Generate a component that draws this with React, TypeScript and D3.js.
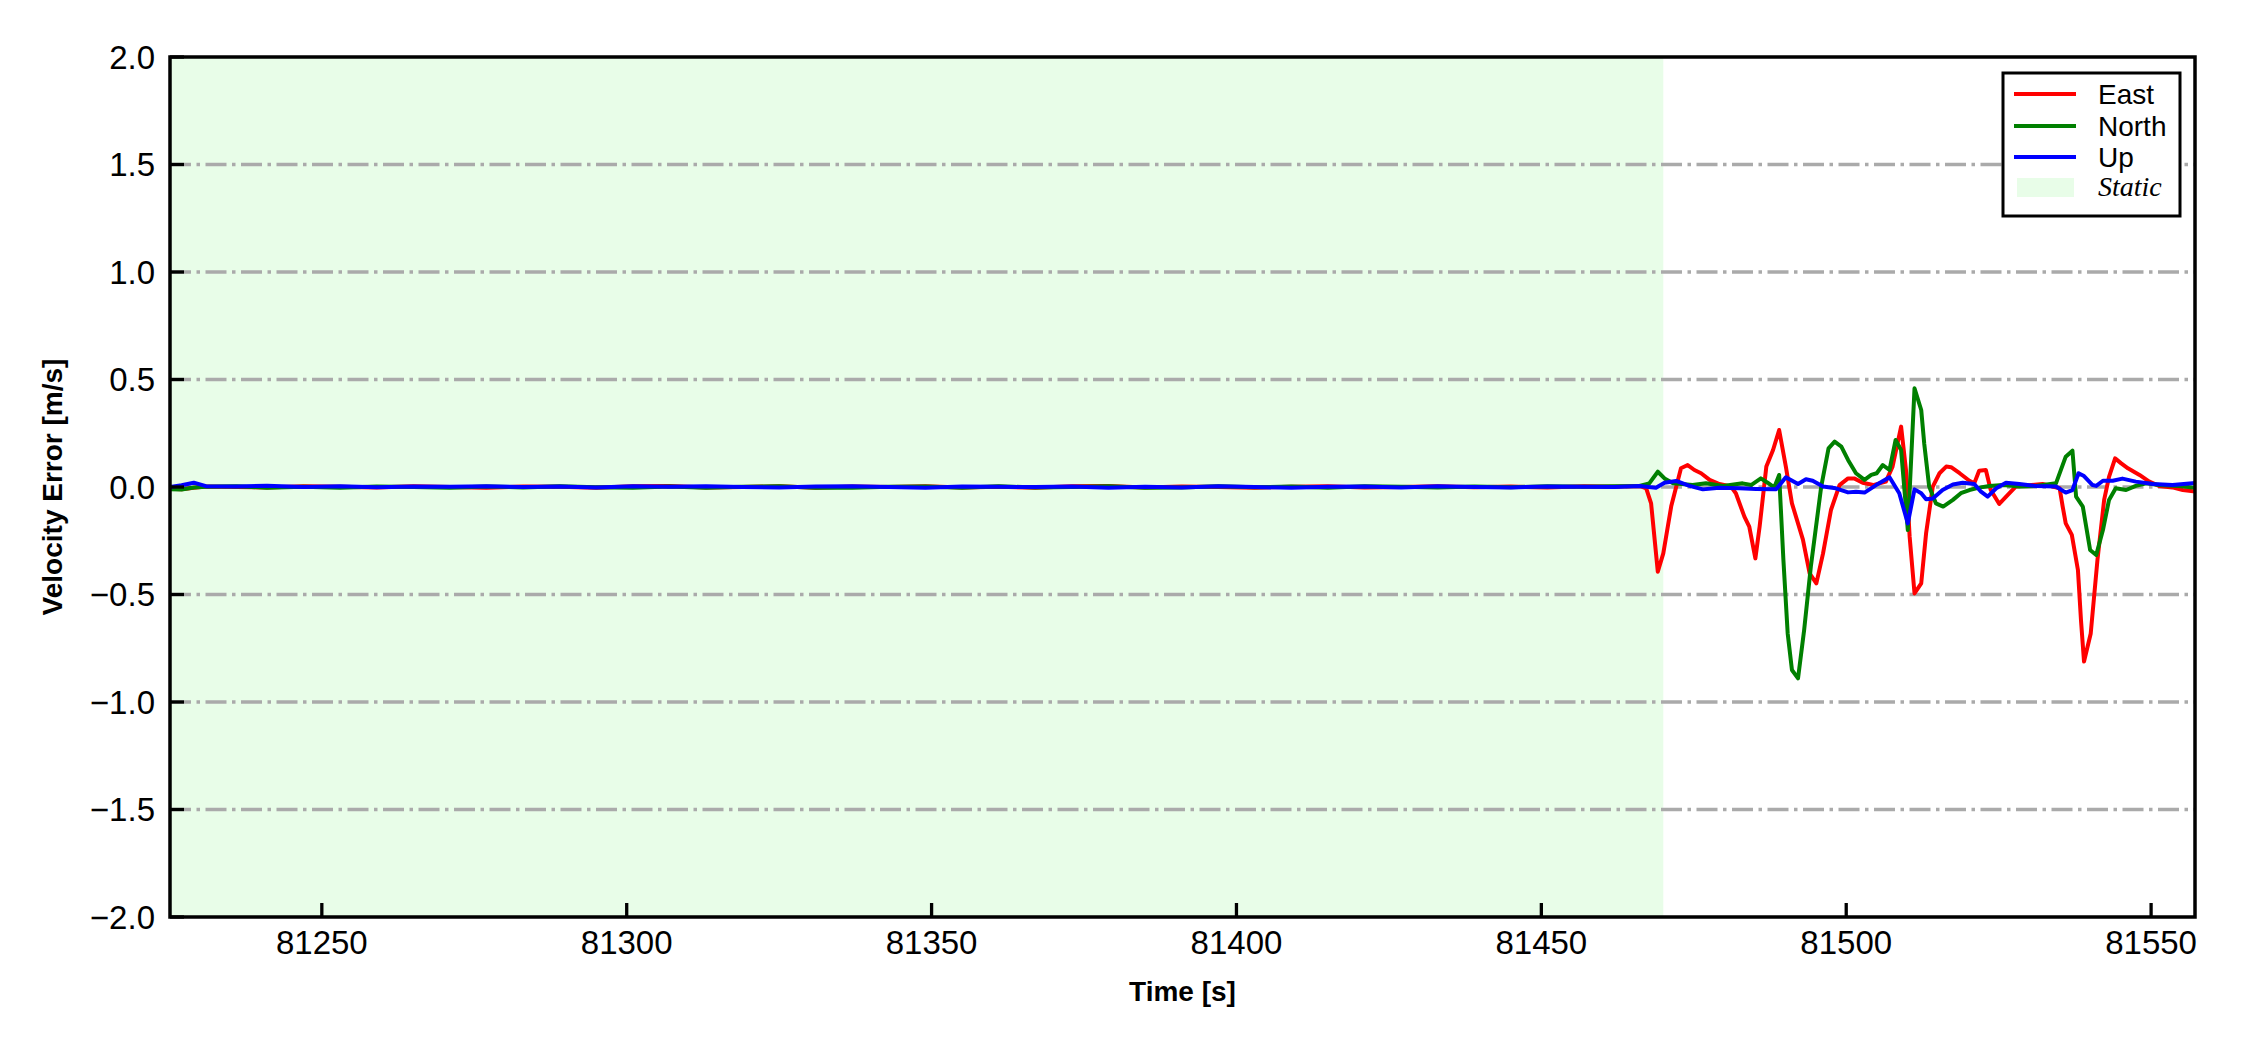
import React from "react";
import * as d3 from "d3";

// ---------- data ----------
const staticTimes = [81225, 81227, 81229, 81231, 81236, 81241, 81247, 81253, 81259, 81265, 81271, 81277, 81283, 81289, 81295, 81301, 81307, 81313, 81319, 81325, 81331, 81337, 81343, 81349, 81355, 81361, 81367, 81373, 81379, 81385, 81391, 81397, 81403, 81409, 81415, 81421, 81427, 81433, 81439, 81445, 81451, 81457, 81462];
const eastStatic = [-0.008, -0.010, -0.003, 0.002, 0.000, -0.002, 0.003, 0.001, -0.002, 0.004, 0.000, -0.003, 0.002, 0.001, -0.004, 0.003, 0.005, -0.002, 0.000, 0.003, -0.003, 0.002, 0.000, 0.004, -0.002, 0.001, -0.003, 0.003, 0.005, -0.002, 0.002, 0.000, -0.003, 0.001, 0.004, -0.002, 0.000, 0.003, -0.001, 0.002, -0.002, 0.003, 0.001];
const northStatic = [-0.010, -0.012, -0.002, 0.001, 0.003, -0.003, 0.001, -0.004, 0.002, 0.000, -0.003, 0.002, -0.002, 0.003, -0.001, -0.004, 0.002, -0.003, 0.001, 0.004, -0.003, -0.004, 0.001, 0.002, -0.003, 0.003, -0.002, 0.000, 0.003, -0.004, -0.002, 0.003, -0.001, 0.002, -0.003, 0.004, 0.001, -0.002, 0.002, -0.001, 0.003, 0.001, 0.004];
const upStatic = [0.000, 0.008, 0.020, 0.004, 0.002, 0.006, 0.000, 0.003, -0.001, 0.002, 0.001, 0.004, 0.000, 0.002, -0.002, 0.003, 0.001, 0.004, 0.000, -0.002, 0.002, 0.003, 0.000, -0.003, 0.002, 0.001, 0.000, 0.002, -0.003, 0.001, -0.002, 0.003, 0.000, -0.004, 0.001, 0.002, -0.002, 0.003, 0.000, -0.002, 0.002, 0.001, 0.000];

const eastDynTimes = [81466.1, 81467.2, 81468.0, 81469.1, 81470.0, 81471.3, 81472.9, 81474.0, 81475.1, 81476.2, 81477.6, 81479.2, 81481.1, 81481.9, 81483.3, 81484.1, 81485.1, 81485.8, 81486.9, 81488.0, 81489.0, 81490.1, 81491.1, 81492.9, 81494.0, 81495.1, 81496.2, 81497.5, 81498.9, 81500.3, 81501.3, 81502.7, 81504.4, 81506.5, 81507.6, 81509.0, 81509.8, 81510.4, 81511.2, 81512.3, 81513.1, 81514.2, 81515.3, 81516.4, 81517.2, 81518.6, 81520.2, 81521.0, 81521.8, 81522.9, 81523.7, 81525.1, 81526.5, 81527.8, 81530.0, 81532.2, 81535.0, 81535.5, 81536.0, 81537.0, 81538.0, 81538.5, 81539.0, 81540.1, 81541.2, 81542.3, 81543.1, 81544.1, 81545.1, 81546.2, 81548.1, 81549.7, 81551.3, 81553.5, 81555.2, 81557.6];
const eastDyn = [0.005, -0.006, -0.076, -0.394, -0.309, -0.09, 0.087, 0.102, 0.079, 0.064, 0.033, 0.014, 0.002, -0.029, -0.138, -0.184, -0.332, -0.184, 0.095, 0.172, 0.265, 0.095, -0.076, -0.245, -0.402, -0.448, -0.309, -0.107, 0.009, 0.040, 0.040, 0.020, 0.009, 0.025, 0.095, 0.281, 0.079, -0.231, -0.495, -0.448, -0.215, 0.002, 0.064, 0.095, 0.092, 0.064, 0.029, 0.017, 0.076, 0.079, -0.014, -0.079, -0.037, 0.002, 0.008, 0.014, -0.006, -0.091, -0.169, -0.223, -0.386, -0.619, -0.812, -0.681, -0.340, -0.060, 0.047, 0.133, 0.110, 0.087, 0.056, 0.025, 0.005, -0.002, -0.014, -0.022];

const northDynTimes = [81466.1, 81467.7, 81469.1, 81470.2, 81471.6, 81474.8, 81477.0, 81479.8, 81483.0, 81484.4, 81486.0, 81487.1, 81488.2, 81489.0, 81489.7, 81490.4, 81491.1, 81492.1, 81493.1, 81494.2, 81495.9, 81497.1, 81498.1, 81499.2, 81500.3, 81501.6, 81503.0, 81504.1, 81505.0, 81506.0, 81507.1, 81508.1, 81509.0, 81510.1, 81511.2, 81512.3, 81512.8, 81513.6, 81514.7, 81515.9, 81517.5, 81518.8, 81520.2, 81521.8, 81523.5, 81525.7, 81528.4, 81531.1, 81534.4, 81536.0, 81537.1, 81537.7, 81538.8, 81540.0, 81541.0, 81542.1, 81543.1, 81544.2, 81545.9, 81547.5, 81549.2, 81551.3, 81554.6, 81557.6];
const northDyn = [0.005, 0.017, 0.071, 0.040, 0.017, 0.009, 0.017, 0.005, 0.017, 0.009, 0.040, 0.020, -0.002, 0.056, -0.34, -0.681, -0.851, -0.890, -0.665, -0.370, 0.002, 0.180, 0.211, 0.188, 0.126, 0.064, 0.033, 0.056, 0.064, 0.102, 0.079, 0.219, 0.172, -0.200, 0.459, 0.358, 0.20, 0.002, -0.076, -0.091, -0.060, -0.029, -0.014, -0.003, 0.005, 0.009, 0.002, 0.005, 0.017, 0.141, 0.169, -0.045, -0.091, -0.293, -0.316, -0.200, -0.060, -0.006, -0.014, 0.005, 0.017, 0.009, 0.005, -0.005];

const upDynTimes = [81466.1, 81468.8, 81470.2, 81472.1, 81474.3, 81476.5, 81479.2, 81482.5, 81485.2, 81488.5, 81490.1, 81492.1, 81493.4, 81494.5, 81496.2, 81498.3, 81500.3, 81501.6, 81503.0, 81504.9, 81507.1, 81508.7, 81510.1, 81511.2, 81512.3, 81513.1, 81514.2, 81515.8, 81517.5, 81519.1, 81521.0, 81522.1, 81523.2, 81524.6, 81526.2, 81528.4, 81531.1, 81534.4, 81536.0, 81537.1, 81538.1, 81539.0, 81540.4, 81541.0, 81542.1, 81543.7, 81545.3, 81547.5, 81550.3, 81553.5, 81557.6];
const upDyn = [0.005, -0.003, 0.020, 0.028, 0.005, -0.011, -0.003, -0.006, -0.009, -0.011, 0.045, 0.014, 0.036, 0.029, 0.002, -0.006, -0.025, -0.022, -0.026, 0.009, 0.045, -0.029, -0.169, -0.011, -0.029, -0.057, -0.053, -0.014, 0.012, 0.020, 0.014, -0.022, -0.045, -0.006, 0.020, 0.014, 0.005, 0.002, -0.026, -0.014, 0.064, 0.051, 0.009, 0.005, 0.029, 0.029, 0.039, 0.025, 0.014, 0.009, 0.020];

const xTicks = [81250, 81300, 81350, 81400, 81450, 81500, 81550];
const yTicks = [-2.0, -1.5, -1.0, -0.5, 0.0, 0.5, 1.0, 1.5, 2.0];
const gridValues = [-1.5, -1.0, -0.5, 0.0, 0.5, 1.0, 1.5];
const xDomain = [81225.1, 81557.2];
const yDomain = [-2, 2];
const staticSpan = [81225.1, 81470];

const seriesNames = ["East", "North", "Up"];
const seriesColors = ["#ff0000", "#008000", "#0000ff"];
const staticLabel = "Static";

// ---------- layout ----------
const W = 2250, H = 1050;
const L = 170, R = 2195, T = 57, B = 917;
const STATIC_FILL = "#e8fde8";

export default function App() {
  const x = d3.scaleLinear().domain(xDomain).range([L, R]);
  const y = d3.scaleLinear().domain(yDomain).range([B, T]);

  const series = [
    { t: staticTimes.concat(eastDynTimes), v: eastStatic.concat(eastDyn) },
    { t: staticTimes.concat(northDynTimes), v: northStatic.concat(northDyn) },
    { t: staticTimes.concat(upDynTimes), v: upStatic.concat(upDyn) },
  ];
  const line = d3.line<[number, number]>().x((d) => x(d[0])).y((d) => y(d[1]));

  const fmtY = (v: number) => (v < 0 ? "\u2212" : "") + Math.abs(v).toFixed(1);
  const font = "Arial, 'Liberation Sans', sans-serif";

  const legX = 2003, legY = 73, legW = 177, legH = 143;
  const rowY = [94, 126, 157, 187];

  return (
    <svg width={W} height={H} style={{ position: "absolute", left: 0, top: 0, background: "#fff" }} fontFamily={font}>
      <defs>
        <clipPath id="plotclip">
          <rect x={L} y={T} width={R - L} height={B - T} />
        </clipPath>
      </defs>
      <rect x={0} y={0} width={W} height={H} fill="#fff" />
      {/* static span */}
      <rect x={x(staticSpan[0])} y={T} width={x(staticSpan[1]) - x(staticSpan[0])} height={B - T} fill={STATIC_FILL} />
      {/* grid */}
      {gridValues.map((g) => (
        <line key={g} x1={L} x2={R} y1={y(g)} y2={y(g)} stroke="#aaaaaa" strokeWidth={3.3} strokeDasharray="21,5.5,3.5,5.5" />
      ))}
      {/* lines */}
      <g clipPath="url(#plotclip)">
        {series.map((s, i) => (
          <path
            key={i}
            d={line(s.t.map((t, j) => [t, s.v[j]] as [number, number])) || ""}
            fill="none"
            stroke={seriesColors[i]}
            strokeWidth={4}
            strokeLinejoin="round"
          />
        ))}
      </g>
      {/* ticks */}
      {xTicks.map((t) => (
        <g key={t}>
          <line x1={x(t)} x2={x(t)} y1={B} y2={B - 14} stroke="#000" strokeWidth={3.3} />
          <text x={x(t)} y={954} fontSize={33} textAnchor="middle">{t}</text>
        </g>
      ))}
      {yTicks.map((v) => (
        <g key={v}>
          <line x1={L} x2={L + 14} y1={y(v)} y2={y(v)} stroke="#000" strokeWidth={3.3} />
          <text x={155} y={y(v) + 11.5} fontSize={33} textAnchor="end">{fmtY(v)}</text>
        </g>
      ))}
      {/* frame */}
      <rect x={L} y={T} width={R - L} height={B - T} fill="none" stroke="#000" strokeWidth={3.5} />
      {/* axis labels */}
      <text x={(L + R) / 2} y={1001} fontSize={28} fontWeight="bold" textAnchor="middle">Time [s]</text>
      <text transform={`translate(62, ${(T + B) / 2}) rotate(-90)`} fontSize={28} fontWeight="bold" textAnchor="middle">Velocity Error [m/s]</text>
      {/* legend */}
      <rect x={legX} y={legY} width={legW} height={legH} fill="#fff" stroke="#000" strokeWidth={3} />
      {seriesNames.map((n, i) => (
        <g key={n}>
          <line x1={2014} x2={2076} y1={rowY[i]} y2={rowY[i]} stroke={seriesColors[i]} strokeWidth={4} />
          <text x={2098} y={rowY[i] + 10} fontSize={28}>{n}</text>
        </g>
      ))}
      <rect x={2017} y={rowY[3] - 9} width={57} height={19} fill={STATIC_FILL} />
      <text x={2098} y={rowY[3] + 9} fontSize={28} fontStyle="italic" fontFamily="'Liberation Serif', 'Times New Roman', serif">{staticLabel}</text>
    </svg>
  );
}
